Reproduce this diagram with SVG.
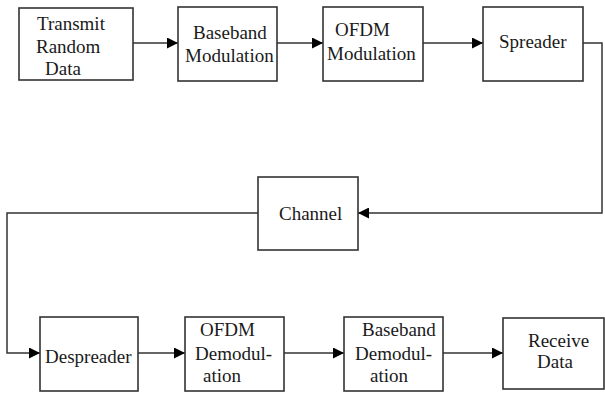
<svg xmlns="http://www.w3.org/2000/svg" width="605" height="394" viewBox="0 0 605 394">
<style>
.box{fill:#fff;stroke:#333;stroke-width:1.6}
.ln{fill:none;stroke:#333;stroke-width:1.5}
.t{font-family:'Liberation Serif','DejaVu Serif',serif;font-size:19px;fill:#1a1a1a}
</style>
<defs>
<marker id="ah" viewBox="0 0 10 10" refX="10" refY="5" markerWidth="11" markerHeight="11" markerUnits="userSpaceOnUse" orient="auto">
<path d="M0,0 L10,5 L0,10 Z" fill="#000"/>
</marker>
</defs>
<rect width="605" height="394" fill="#fff"/>
<g id="connectors">
<line class="ln" x1="133" y1="43" x2="178" y2="43" marker-end="url(#ah)"/>
<line class="ln" x1="277" y1="43" x2="323" y2="43" marker-end="url(#ah)"/>
<line class="ln" x1="423" y1="43" x2="483" y2="43" marker-end="url(#ah)"/>
<polyline class="ln" points="583,43 602,43 602,213 358,213" marker-end="url(#ah)"/>
<polyline class="ln" points="258,213 7,213 7,353 40,353" marker-end="url(#ah)"/>
<line class="ln" x1="138" y1="353" x2="185" y2="353" marker-end="url(#ah)"/>
<line class="ln" x1="284" y1="353" x2="344" y2="353" marker-end="url(#ah)"/>
<line class="ln" x1="443" y1="353" x2="503" y2="353" marker-end="url(#ah)"/>
</g>
<g class="t">
<g id="transmit">
<rect class="box" x="19" y="8" width="114" height="72"/>
<text x="37" y="30">Transmit</text>
<text x="36" y="53">Random</text>
<text x="45" y="75">Data</text>
</g>
<g id="bbmod">
<rect class="box" x="178" y="7" width="99" height="74"/>
<text x="193" y="39">Baseband</text>
<text x="185" y="62">Modulation</text>
</g>
<g id="ofdmmod">
<rect class="box" x="323" y="7" width="100" height="74"/>
<text x="335" y="36">OFDM</text>
<text x="327" y="60">Modulation</text>
</g>
<g id="spreader">
<rect class="box" x="483" y="7" width="100" height="74"/>
<text x="499" y="48">Spreader</text>
</g>
<g id="channel">
<rect class="box" x="258" y="177" width="100" height="73"/>
<text x="279" y="220">Channel</text>
</g>
<g id="despreader">
<rect class="box" x="40" y="317" width="98" height="74"/>
<text x="45" y="363">Despreader</text>
</g>
<g id="ofdmdemod">
<rect class="box" x="185" y="317" width="99" height="74"/>
<text x="200" y="336">OFDM</text>
<text x="195" y="360">Demodul-</text>
<text x="203" y="382">ation</text>
</g>
<g id="bbdemod">
<rect class="box" x="344" y="317" width="99" height="74"/>
<text x="362" y="336">Baseband</text>
<text x="355" y="360">Demodul-</text>
<text x="370" y="382">ation</text>
</g>
<g id="receive">
<rect class="box" x="503" y="318" width="101" height="71"/>
<text x="528" y="347">Receive</text>
<text x="537" y="368">Data</text>
</g>
</g>
</svg>
